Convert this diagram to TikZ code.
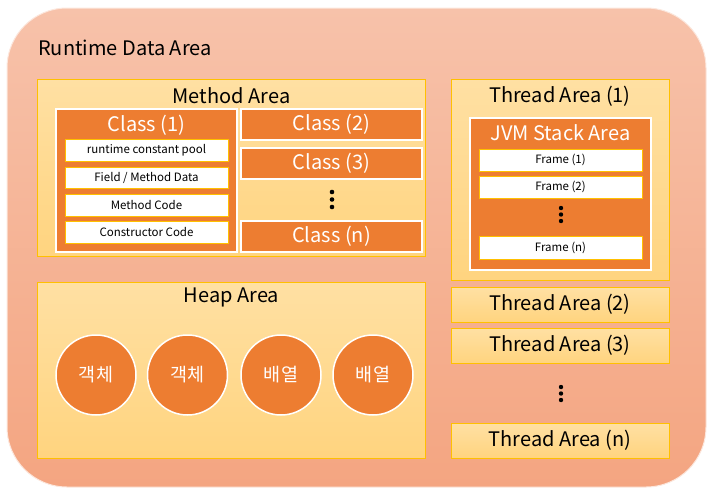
\documentclass[tikz,border=0pt]{standalone}
\usepackage{fontspec}
\setmainfont{Noto Sans CJK KR}
\definecolor{rdatop}{HTML}{F7C2AA}
\definecolor{rdabot}{HTML}{F4A581}
\definecolor{areatop}{HTML}{FFE0A3}
\definecolor{areabot}{HTML}{FFD47F}
\definecolor{areaedge}{HTML}{FFC000}
\definecolor{accent}{HTML}{ED7D31}
\tikzset{
  rdabox/.style={rounded corners=60pt, top color=rdatop, bottom color=rdabot, draw=white!60!rdatop, line width=1pt, minimum width=699pt, minimum height=479pt, inner sep=0pt},
  area/.style={top color=areatop, bottom color=areabot, draw=areaedge, line width=0.8pt, inner sep=0pt, font=\fontsize{20}{24}\selectfont},
  block/.style={fill=accent, draw=white, line width=1.5pt, inner sep=0pt, text=white, font=\fontsize{20}{24}\selectfont},
  item/.style={fill=white, draw=areaedge, line width=0.8pt, inner sep=0pt, font=\fontsize{11.5}{13}\selectfont},
  obj/.style={circle, fill=accent, draw=white, line width=1.5pt, minimum size=80pt, inner sep=0pt, text=white, font=\fontsize{18.5}{22}\selectfont},
  title/.style={inner sep=0pt, font=\fontsize{20}{24}\selectfont}
}
\begin{document}
\begin{tikzpicture}[x=1pt, y=-1pt]
\useasboundingbox (0,0) rectangle (712,493);
% runtime data area
\node[rdabox] (rda) at (356.5,247.5) {};
\node[title, anchor=west] (rdatitle) at (38,48) {Runtime Data Area};
% method area
\node[area, minimum width=388pt, minimum height=177pt] (method) at (231.5,168) {};
\node[title] (methodtitle) at (231.5,96) {Method Area};
\node[block, minimum width=181pt, minimum height=143pt] (class1) at (146.5,180.5) {};
\node[title, text=white] (class1title) at (146.5,125) {Class (1)};
\node[item, minimum width=163pt, minimum height=22pt] (pool) at (146.5,150) {runtime constant pool};
\node[item, minimum width=163pt, minimum height=21pt] (field) at (146.5,177.5) {Field / Method Data};
\node[item, minimum width=163pt, minimum height=22pt] (code) at (146.5,205) {Method Code};
\node[item, minimum width=163pt, minimum height=22pt] (ctor) at (146.5,232) {Constructor Code};
\node[block, minimum width=181pt, minimum height=31pt] (class2) at (331.5,124.5) {Class (2)};
\node[block, minimum width=181pt, minimum height=31pt] (class3) at (331.5,163.5) {Class (3)};
\node[block, minimum width=181pt, minimum height=31pt] (classn) at (331.5,236.5) {Class (n)};
\foreach \y in {192,199.5,207} \fill (332,\y) circle (2.3pt);
% thread area (1)
\node[area, minimum width=218pt, minimum height=201pt] (thread1) at (560,179.5) {};
\node[title] (thread1title) at (560,96) {Thread Area (1)};
\node[block, minimum width=181pt, minimum height=152pt] (jvm) at (560.5,194) {};
\node[title, text=white] (jvmtitle) at (560.5,133) {JVM Stack Area};
\node[item, minimum width=163pt, minimum height=22pt] (frame1) at (560.5,160) {Frame (1)};
\node[item, minimum width=163pt, minimum height=22pt] (frame2) at (560.5,187) {Frame (2)};
\node[item, minimum width=163pt, minimum height=23pt] (framen) at (560.5,247.5) {Frame (n)};
\foreach \y in {208,214.5,221} \fill (561,\y) circle (2.2pt);
% heap area
\node[area, minimum width=388pt, minimum height=176pt] (heap) at (231.5,370) {};
\node[title] (heaptitle) at (231.5,297) {Heap Area};
\node[obj] (obj1) at (96,375) {객체};
\node[obj] (obj2) at (187.5,375) {객체};
\node[obj] (arr1) at (281,375) {배열};
\node[obj] (arr2) at (373,375) {배열};
% thread area (2) .. (n)
\node[area, minimum width=218pt, minimum height=35pt] (thread2) at (560,304.5) {Thread Area (2)};
\node[area, minimum width=218pt, minimum height=35pt] (thread3) at (560,345.5) {Thread Area (3)};
\node[area, minimum width=218pt, minimum height=35pt] (threadn) at (560,440.5) {Thread Area (n)};
\foreach \y in {387,393.5,400} \fill (561,\y) circle (2.2pt);
\end{tikzpicture}
\end{document}
